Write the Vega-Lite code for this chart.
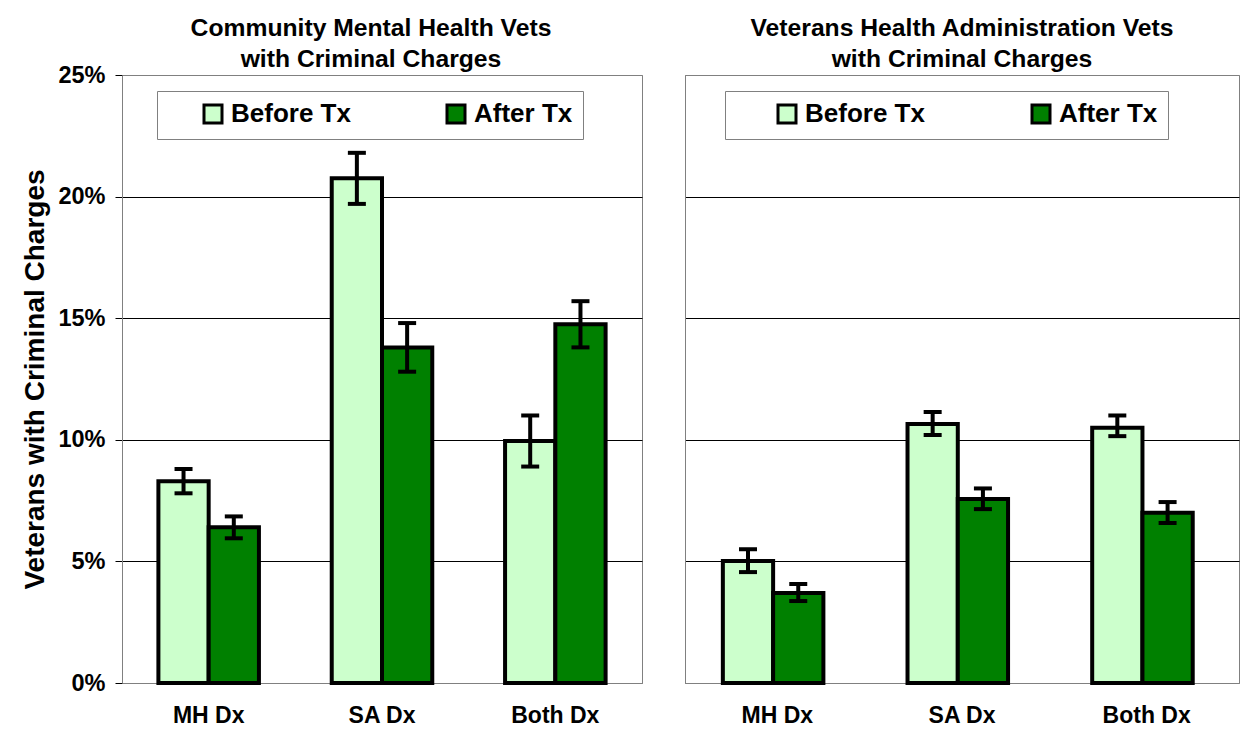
{
  "$schema": "https://vega.github.io/schema/vega-lite/v6.json",
  "background": "#ffffff",
  "padding": {"left": 21, "top": 15, "right": 0, "bottom": 0},
  "spacing": 41,
  "config": {
    "font": "Liberation Sans",
    "view": {"stroke": "#808080", "strokeWidth": 1},
    "title": {"fontSize": 24.7, "fontWeight": "bold", "color": "#000000", "lineHeight": 31, "anchor": "middle"}
  },
  "resolve": {"legend": {"color": "independent"}},
  "datasets": {
    "d": [
      {"panel": "CMH", "dx": "MH Dx", "tx": "Before Tx", "value": 0.083, "lo": 0.078, "hi": 0.088},
      {"panel": "CMH", "dx": "MH Dx", "tx": "After Tx", "value": 0.064, "lo": 0.0595, "hi": 0.0685},
      {"panel": "CMH", "dx": "SA Dx", "tx": "Before Tx", "value": 0.2075, "lo": 0.197, "hi": 0.218},
      {"panel": "CMH", "dx": "SA Dx", "tx": "After Tx", "value": 0.138, "lo": 0.128, "hi": 0.148},
      {"panel": "CMH", "dx": "Both Dx", "tx": "Before Tx", "value": 0.0995, "lo": 0.089, "hi": 0.110},
      {"panel": "CMH", "dx": "Both Dx", "tx": "After Tx", "value": 0.1475, "lo": 0.138, "hi": 0.157},
      {"panel": "VHA", "dx": "MH Dx", "tx": "Before Tx", "value": 0.0502, "lo": 0.0456, "hi": 0.055},
      {"panel": "VHA", "dx": "MH Dx", "tx": "After Tx", "value": 0.037, "lo": 0.0337, "hi": 0.0407},
      {"panel": "VHA", "dx": "SA Dx", "tx": "Before Tx", "value": 0.1065, "lo": 0.102, "hi": 0.1114},
      {"panel": "VHA", "dx": "SA Dx", "tx": "After Tx", "value": 0.0757, "lo": 0.0715, "hi": 0.080},
      {"panel": "VHA", "dx": "Both Dx", "tx": "Before Tx", "value": 0.105, "lo": 0.1015, "hi": 0.110},
      {"panel": "VHA", "dx": "Both Dx", "tx": "After Tx", "value": 0.070, "lo": 0.0658, "hi": 0.0744}
    ]
  },
  "hconcat": [
    {
      "width": 520,
      "height": 608,
      "title": {"text": ["Community Mental Health Vets", "with Criminal Charges"], "dx": -11, "offset": -9},
      "data": {"name": "d"},
      "transform": [{"filter": "datum.panel == 'CMH'"}],
      "encoding": {
        "x": {
          "field": "dx", "type": "nominal", "sort": ["MH Dx", "SA Dx", "Both Dx"],
          "scale": {"paddingInner": 0.42, "paddingOuter": 0.21},
          "axis": {"title": null, "labelAngle": 0, "labelFontSize": 23, "labelFontWeight": "bold", "labelColor": "#000000", "labelPadding": 21, "ticks": false, "domainColor": "#808080"}
        },
        "xOffset": {"field": "tx", "type": "nominal", "sort": ["Before Tx", "After Tx"], "scale": {"paddingInner": 0, "paddingOuter": 0}}
      },
      "layer": [
        {
          "mark": {"type": "bar", "stroke": "#000000", "strokeWidth": 4},
          "encoding": {
            "y": {
              "field": "value", "type": "quantitative",
              "scale": {"domain": [0, 0.25], "nice": false},
              "axis": {
                "title": "Veterans with Criminal Charges", "titleFontSize": 28, "titleFontWeight": "bold", "titleColor": "#000000", "titlePadding": 8,
                "format": ".0%", "values": [0, 0.05, 0.1, 0.15, 0.2, 0.25],
                "labelFontSize": 23.5, "labelFontWeight": "bold", "labelColor": "#000000", "labelPadding": 10,
                "tickSize": 7, "tickColor": "#000000", "domainColor": "#808080",
                "gridColor": {"condition": {"test": "datum.value == 0 || datum.value >= 0.25", "value": "#808080"}, "value": "#000000"},
                "gridWidth": 1
              }
            },
            "color": {
              "field": "tx", "type": "nominal",
              "scale": {"domain": ["Before Tx", "After Tx"], "range": ["#CCFFCC", "#008000"]},
              "legend": {
                "orient": "none", "legendX": 35, "legendY": 16, "direction": "horizontal", "gridAlign": "all",
                "title": " ", "titleOrient": "left", "titleFontSize": 10, "titlePadding": 33,
                "labelFontSize": 26, "labelFontWeight": "bold", "labelColor": "#000000", "labelOffset": 5, "labelLimit": 400,
                "symbolType": "square", "symbolSize": 324, "symbolStrokeColor": "#000000", "symbolStrokeWidth": 3, "symbolOpacity": 1,
                "columnPadding": 90, "padding": 10, "strokeColor": "#808080", "fillColor": "#ffffff"
              }
            }
          }
        },
        {
          "mark": {"type": "rule", "strokeWidth": 4, "color": "#000000"},
          "encoding": {"y": {"field": "lo", "type": "quantitative"}, "y2": {"field": "hi"}}
        },
        {
          "mark": {"type": "tick", "size": 18, "thickness": 4, "color": "#000000", "opacity": 1},
          "encoding": {"y": {"field": "lo", "type": "quantitative"}}
        },
        {
          "mark": {"type": "tick", "size": 18, "thickness": 4, "color": "#000000", "opacity": 1},
          "encoding": {"y": {"field": "hi", "type": "quantitative"}}
        }
      ]
    },
    {
      "width": 554,
      "height": 608,
      "title": {"text": ["Veterans Health Administration Vets", "with Criminal Charges"], "offset": 3},
      "data": {"name": "d"},
      "transform": [{"filter": "datum.panel == 'VHA'"}],
      "encoding": {
        "x": {
          "field": "dx", "type": "nominal", "sort": ["MH Dx", "SA Dx", "Both Dx"],
          "scale": {"paddingInner": 0.41, "paddingOuter": 0.205},
          "axis": {"title": null, "labelAngle": 0, "labelFontSize": 23, "labelFontWeight": "bold", "labelColor": "#000000", "labelPadding": 21, "ticks": false, "domainColor": "#808080"}
        },
        "xOffset": {"field": "tx", "type": "nominal", "sort": ["Before Tx", "After Tx"], "scale": {"paddingInner": 0, "paddingOuter": 0}}
      },
      "layer": [
        {
          "mark": {"type": "bar", "stroke": "#000000", "strokeWidth": 4},
          "encoding": {
            "y": {
              "field": "value", "type": "quantitative",
              "scale": {"domain": [0, 0.25], "nice": false},
              "axis": {
                "title": null, "labels": false, "ticks": false, "values": [0, 0.05, 0.1, 0.15, 0.2, 0.25],
                "domainColor": "#808080",
                "gridColor": {"condition": {"test": "datum.value == 0 || datum.value >= 0.25", "value": "#808080"}, "value": "#000000"},
                "gridWidth": 1
              }
            },
            "color": {
              "field": "tx", "type": "nominal",
              "scale": {"domain": ["Before Tx", "After Tx"], "range": ["#CCFFCC", "#008000"]},
              "legend": {
                "orient": "none", "legendX": 40, "legendY": 16, "direction": "horizontal", "gridAlign": "all",
                "title": " ", "titleOrient": "left", "titleFontSize": 10, "titlePadding": 39,
                "labelFontSize": 26, "labelFontWeight": "bold", "labelColor": "#000000", "labelOffset": 5, "labelLimit": 400,
                "symbolType": "square", "symbolSize": 324, "symbolStrokeColor": "#000000", "symbolStrokeWidth": 3, "symbolOpacity": 1,
                "columnPadding": 101, "padding": 10, "strokeColor": "#808080", "fillColor": "#ffffff"
              }
            }
          }
        },
        {
          "mark": {"type": "rule", "strokeWidth": 4, "color": "#000000"},
          "encoding": {"y": {"field": "lo", "type": "quantitative"}, "y2": {"field": "hi"}}
        },
        {
          "mark": {"type": "tick", "size": 18, "thickness": 4, "color": "#000000", "opacity": 1},
          "encoding": {"y": {"field": "lo", "type": "quantitative"}}
        },
        {
          "mark": {"type": "tick", "size": 18, "thickness": 4, "color": "#000000", "opacity": 1},
          "encoding": {"y": {"field": "hi", "type": "quantitative"}}
        }
      ]
    }
  ]
}
